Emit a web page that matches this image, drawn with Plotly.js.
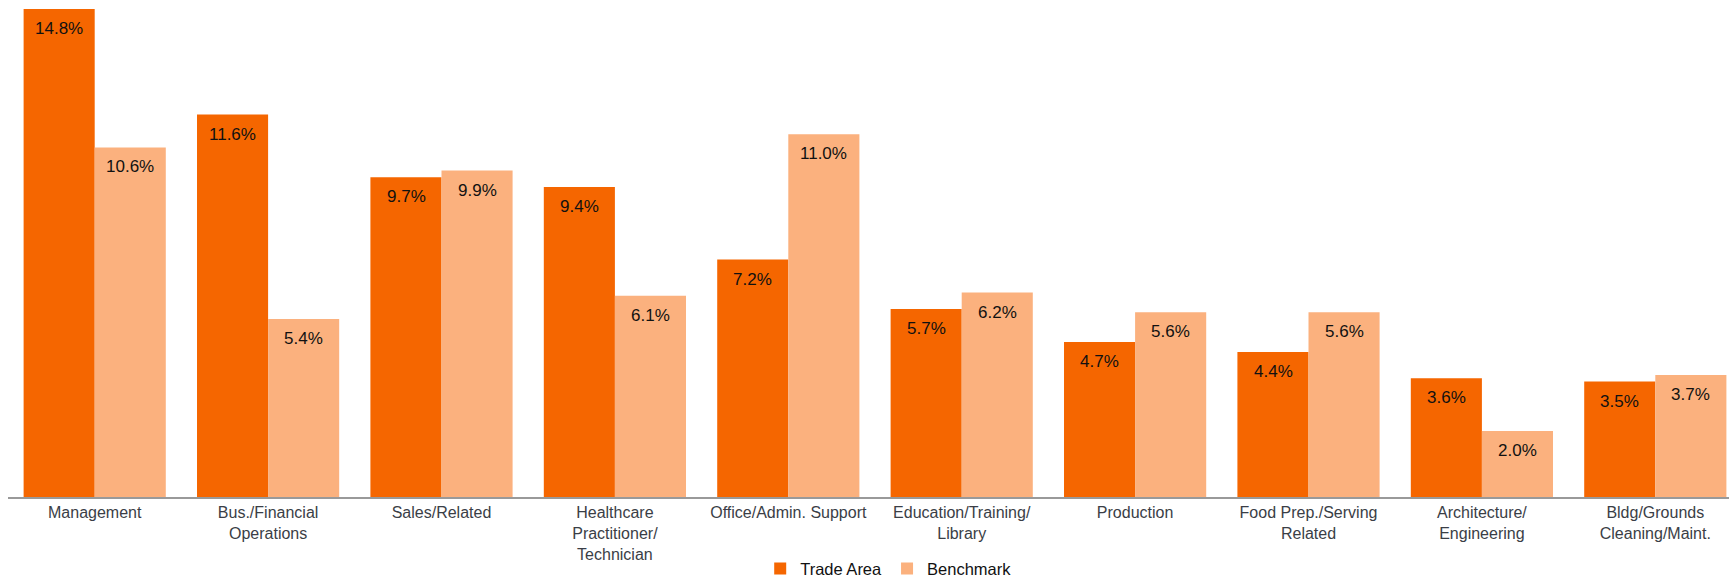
<!DOCTYPE html>
<html>
<head>
<meta charset="utf-8">
<script src="https://cdn.plot.ly/plotly-3.0.1.min.js"></script>
<style>html,body{margin:0;padding:0;background:#fff;}#chart{width:1729px;height:581px;}</style>
</head>
<body>
<div id="chart"></div>
<script>
var categories = ["Management", "Bus./Financial<br>Operations", "Sales/Related", "Healthcare<br>Practitioner/<br>Technician", "Office/Admin. Support", "Education/Training/<br>Library", "Production", "Food Prep./Serving<br>Related", "Architecture/<br>Engineering", "Bldg/Grounds<br>Cleaning/Maint."];
var tradeArea = [14.8, 11.6, 9.7, 9.4, 7.2, 5.7, 4.7, 4.4, 3.6, 3.5];
var benchmark = [10.6, 5.4, 9.9, 6.1, 11.0, 6.2, 5.6, 5.6, 2.0, 3.7];
var seriesNames = ["Trade Area", "Benchmark"];
var colors = ["#F56600", "#FBB17E"];

var traces = [tradeArea, benchmark].map(function (vals, i) {
  return {
    type: "bar",
    name: seriesNames[i],
    x: categories,
    y: vals,
    marker: { color: colors[i] },
    hoverinfo: "none"
  };
});

var annotations = [];
[tradeArea, benchmark].forEach(function (vals, i) {
  vals.forEach(function (v, j) {
    annotations.push({
      x: categories[j], y: v, xref: "x", yref: "y",
      text: v.toFixed(1) + "%",
      showarrow: false,
      xanchor: "center", yanchor: "top",
      xshift: i === 0 ? -35.5 : 35.5,
      yshift: -8,
      font: { family: "Liberation Sans, Arial, sans-serif", size: 17, color: "#111" }
    });
  });
});

var layout = {
  width: 1729, height: 581,
  margin: { l: 8, r: 0, t: 9, b: 84, autoexpand: false },
  paper_bgcolor: "#fff", plot_bgcolor: "#fff",
  barmode: "group",
  bargap: 0.18,
  bargroupgap: 0,
  font: { family: "Liberation Sans, Arial, sans-serif" },
  xaxis: {
    type: "category",
    range: [-0.5, 9.425],
    showline: true, linecolor: "#999", linewidth: 2,
    ticks: "", showgrid: false, zeroline: false,
    tickfont: { size: 16, color: "#3a3e46" },
    tickangle: 0,
    fixedrange: true
  },
  yaxis: {
    range: [0, 14.8],
    visible: false,
    showgrid: false, zeroline: false,
    fixedrange: true
  },
  showlegend: true,
  legend: {
    orientation: "h",
    xref: "container", yref: "container",
    x: 0.514, xanchor: "center",
    y: 0.021, yanchor: "middle",
    font: { size: 16.5, color: "#111" },
    itemwidth: 30,
    traceorder: "normal"
  },
  annotations: annotations
};

Plotly.newPlot("chart", traces, layout, { displayModeBar: false, staticPlot: true });
</script>
</body>
</html>
